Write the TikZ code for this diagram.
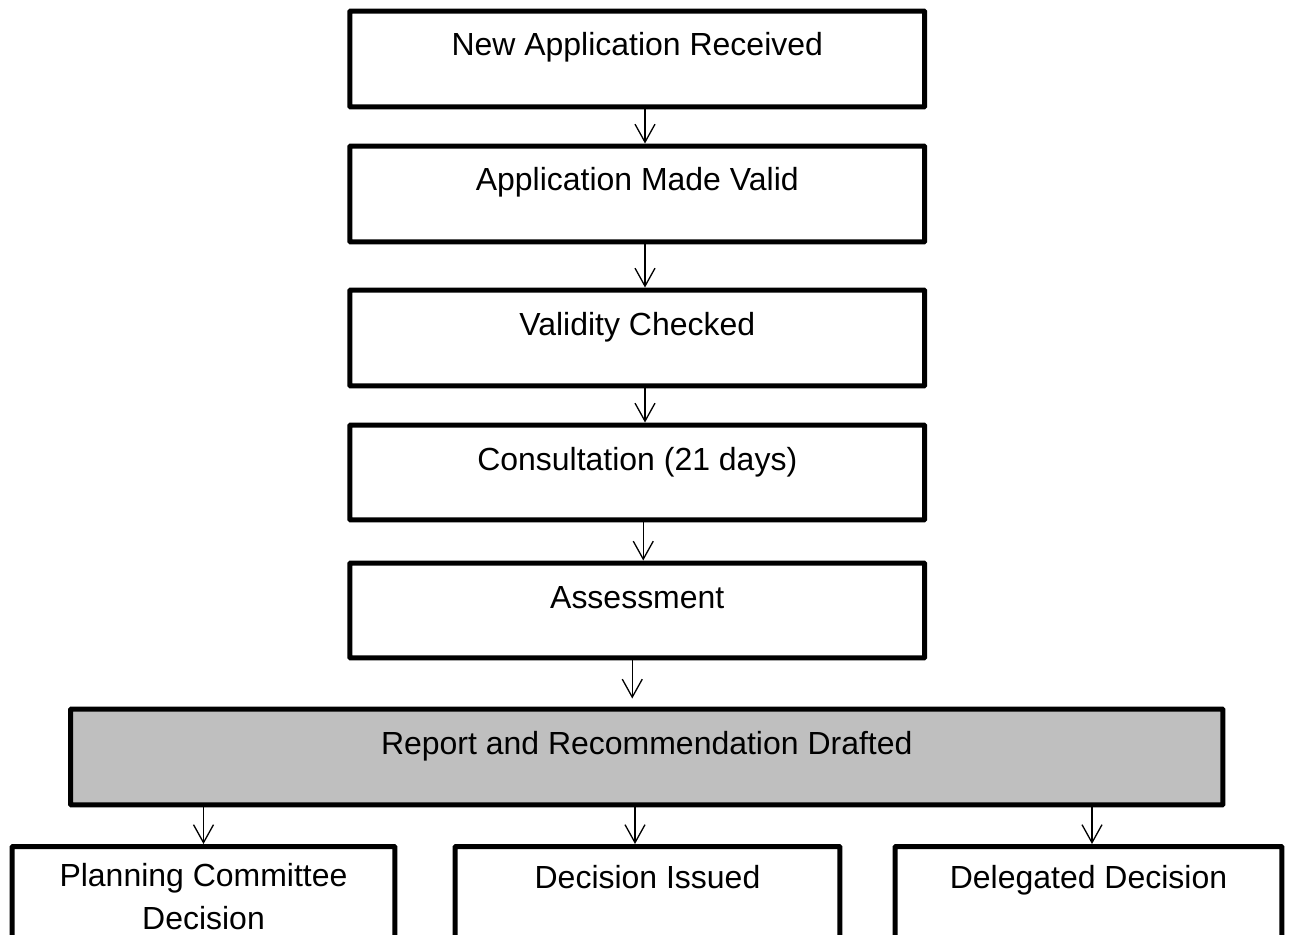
\documentclass[tikz,border=0pt]{standalone}
\usepackage{fontspec}
\setmainfont{Liberation Sans}
\usepackage{tikz}
\usetikzlibrary{arrows.meta}

\begin{document}
\begin{tikzpicture}[x=0.02cm, y=-0.02cm,
	every node/.style={font=\fontsize{18.2}{25}\selectfont},
	stepbox/.style={draw, rectangle, line width=0.1cm, rounded corners=0.5pt, inner sep=0pt},
	steptext/.style={anchor=base, align=center, inner sep=0pt},
	>={Straight Barb[length=0.36cm, width=0.4cm, line width=0.75pt]}]
	\useasboundingbox (0,0) rectangle (1290,935);
	\clip (0,0) rectangle (1290,935);

	\node[stepbox, minimum width=11.5cm, minimum height=1.92cm] (recv) at (637.25,59) {};
	\node[steptext] at ([yshift=-0.95cm]recv.north) {New Application Received};
	\node[stepbox, minimum width=11.5cm, minimum height=1.92cm] (valid) at (637.25,194) {};
	\node[steptext] at ([yshift=-0.95cm]valid.north) {Application Made Valid};
	\node[stepbox, minimum width=11.5cm, minimum height=1.92cm] (check) at (637.25,338) {};
	\node[steptext] at ([yshift=-0.95cm]check.north) {Validity Checked};
	\node[stepbox, minimum width=11.5cm, minimum height=1.9cm] (consult) at (637.25,472.5) {};
	\node[steptext] at ([yshift=-0.95cm]consult.north) {Consultation (21 days)};
	\node[stepbox, minimum width=11.5cm, minimum height=1.9cm] (assess) at (637.25,610.5) {};
	\node[steptext] at ([yshift=-0.95cm]assess.north) {Assessment};

	\node[stepbox, fill=black!25, minimum width=23.05cm, minimum height=1.92cm] (report) at (646.75,757) {};
	\node[steptext] at ([yshift=-0.95cm]report.north) {Report and Recommendation Drafted};

	\node[stepbox, anchor=north, minimum width=7.66cm, minimum height=3cm] (committee) at (203.5,844) {};
	\node[steptext, anchor=north] at ([yshift=-0.37cm]committee.north) {Planning Committee\\Decision};
	\node[stepbox, anchor=north, minimum width=7.7cm, minimum height=3cm] (issued) at (647.5,844) {};
	\node[steptext] at ([yshift=-0.88cm]issued.north) {Decision Issued};
	\node[stepbox, anchor=north, minimum width=7.74cm, minimum height=3cm] (delegated) at (1088.5,844) {};
	\node[steptext] at ([yshift=-0.88cm]delegated.north) {Delegated Decision};

	\draw[->, line width=0.75pt] ([xshift=0.155cm]recv.south) -- ([xshift=0.155cm]valid.north);
	\draw[->, line width=0.75pt] ([xshift=0.155cm]valid.south) -- ([xshift=0.155cm]check.north);
	\draw[->, line width=0.75pt] ([xshift=0.155cm]check.south) -- ([xshift=0.155cm]consult.north);
	\draw[->, line width=0.75pt] ([xshift=0.12cm]consult.south) -- ([xshift=0.12cm]assess.north);
	\draw[->, line width=0.75pt, shorten >=0.16cm] ([xshift=-0.1cm]assess.south) -- ([xshift=-0.1cm]assess.south |- report.north);
	\draw[->, line width=0.75pt] (report.south -| committee.north) -- (committee.north);
	\draw[->, line width=0.75pt] ([xshift=-0.25cm]report.south -| issued.north) -- ([xshift=-0.25cm]issued.north);
	\draw[->, line width=0.75pt] ([xshift=0.07cm]report.south -| delegated.north) -- ([xshift=0.07cm]delegated.north);
\end{tikzpicture}
\end{document}
